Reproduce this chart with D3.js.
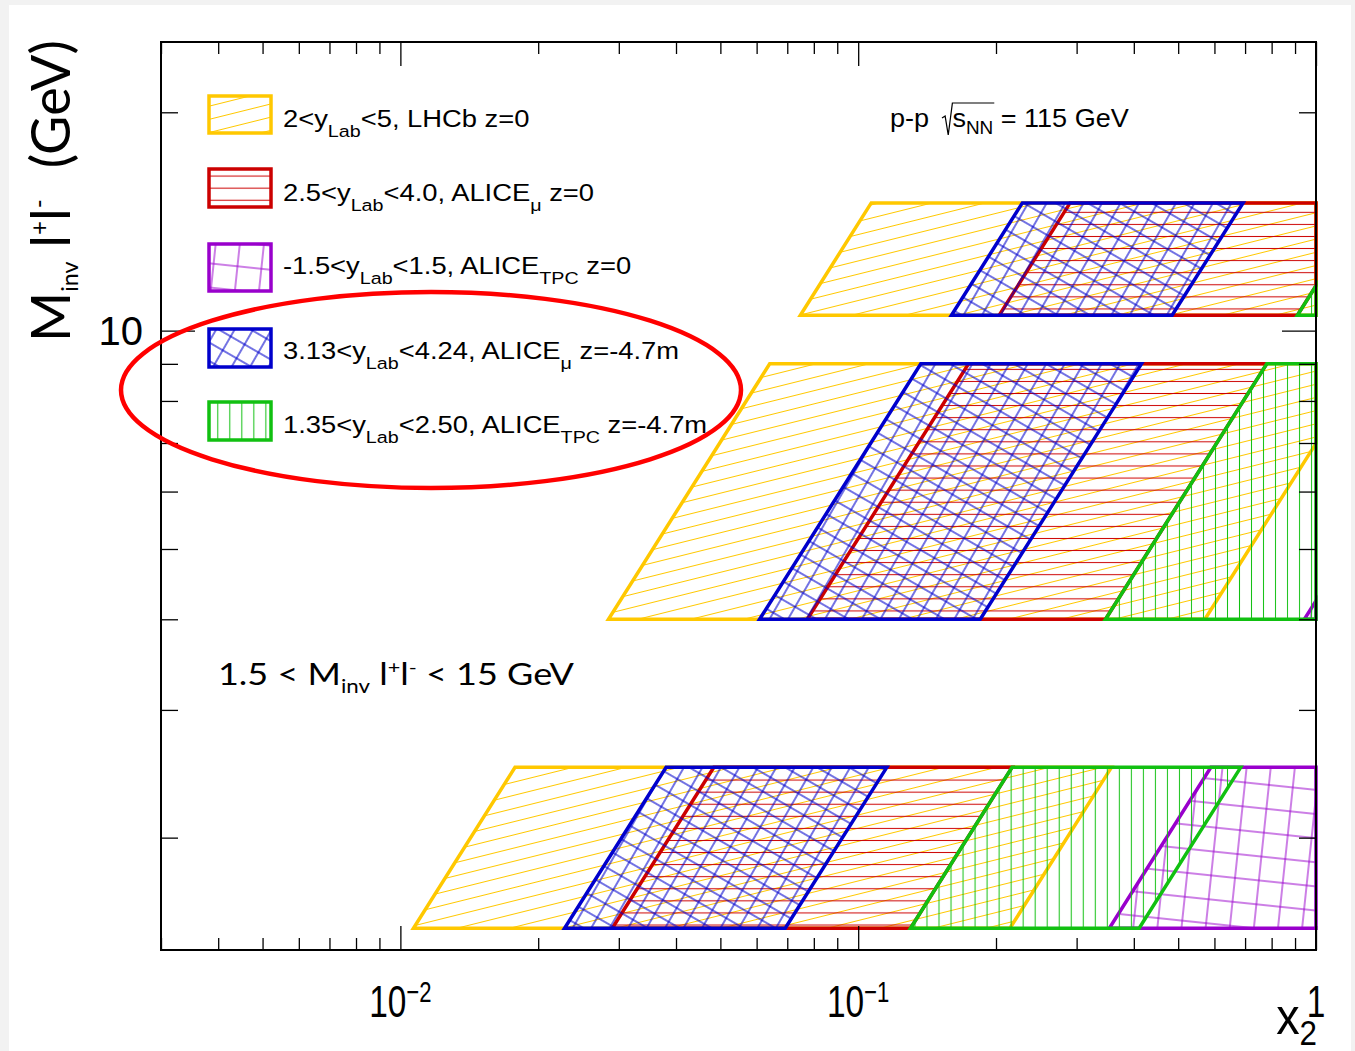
<!DOCTYPE html>
<html>
<head>
<meta charset="utf-8">
<title>x2 coverage vs dilepton mass</title>
<script src="https://cdn.jsdelivr.net/npm/d3@7/dist/d3.min.js"></script>
<style>
  html, body { margin: 0; padding: 0; background: #f2f2f2; }
  svg { display: block; }
  text { white-space: pre; }
</style>
</head>
<body>
<svg id="chart" width="1355" height="1051"></svg>
<script>
// ---- kinematics ----
const sqrtS = 115;            // GeV, p-p with the 7 TeV beam on a fixed target
const beamShift = 4.8;        // rapidity shift lab -> centre of mass
const massBands = [[1.5, 2.5], [4, 9], [10.5, 15]];   // dilepton mass windows, GeV

// ---- detector acceptances (legend order is drawing order) ----
const yLabMinText = ["2", "2.5", "-1.5", "3.13", "1.35"];
const yLabMaxText = ["5", "4.0", "1.5", "4.24", "2.50"];
const experiments = ["LHCb", "ALICE", "ALICE", "ALICE", "ALICE"];
const expSubs     = ["", "μ", "TPC", "μ", "TPC"];
const targetPos   = ["z=0", "z=0", "z=0", "z=-4.7m", "z=-4.7m"];
const colors      = ["#ffc800", "#cc0000", "#9900cc", "#0000cc", "#11c011"];

// ---- axes ----
const xDomain = [0.003, 1];
const yDomain = [1.4, 25];
const xMajorTicks  = [0.01, 0.1, 1];
const xMajorLabels = [["10", "−2"], ["10", "−1"], ["1", ""]];
const yMajorTicks  = [10];
const yMajorLabels = ["10"];

// ---------------------------------------------------------------
const W = 1355, H = 1051;
const frame = { left: 161, right: 1316, top: 42, bottom: 950 };

const svg = d3.select("#chart");
const defs = svg.append("defs");

svg.append("rect").attr("width", W).attr("height", H).attr("fill", "#f2f2f2");
svg.append("rect").attr("x", 9).attr("y", 5).attr("width", 1342).attr("height", H - 5).attr("fill", "#ffffff");

const x = d3.scaleLog().domain(xDomain).range([frame.left, frame.right]);
const y = d3.scaleLog().domain(yDomain).range([frame.bottom, frame.top]);

// ---- hatch fills ----
const hatchStyles = [
  { spacing: 12.8,  angle: -14, lines: "h",  width: 1 },                 // diagonal
  { spacing: 12.08, angle: 0,   lines: "h",  width: 1, oy: 212.3 },      // horizontal
  { spacing: 24,    angle: 6,   lines: "hv", width: 1 },                 // skewed grid
  { spacing: 16,    angle: 30,  lines: "hv", width: 1.1 },               // diamond cross-hatch
  { spacing: 12.02, angle: 0,   lines: "v",  width: 1, ox: 1119.3 }      // vertical
];
hatchStyles.forEach((s, i) => {
  const p = defs.append("pattern")
    .attr("id", "hatch" + i)
    .attr("patternUnits", "userSpaceOnUse")
    .attr("x", (s.ox || 0) - s.spacing / 2)
    .attr("y", (s.oy || 0) - s.spacing / 2)
    .attr("width", s.spacing).attr("height", s.spacing)
    .attr("patternTransform", `rotate(${s.angle})`);
  if (s.lines.includes("h"))
    p.append("line").attr("x1", -1).attr("x2", s.spacing + 1)
      .attr("y1", s.spacing / 2).attr("y2", s.spacing / 2)
      .attr("stroke", colors[i]).attr("stroke-width", s.width);
  if (s.lines.includes("v"))
    p.append("line").attr("y1", -1).attr("y2", s.spacing + 1)
      .attr("x1", s.spacing / 2).attr("x2", s.spacing / 2)
      .attr("stroke", colors[i]).attr("stroke-width", s.width);
});

// ---- acceptance regions ----
const x2 = (m, yLab) => m / sqrtS * Math.exp(beamShift - yLab);

// keep the part of a polygon (x2, M) with x2 <= xmax; edges are straight in log-log
function clipX(poly, xmax) {
  const out = [];
  for (let i = 0; i < poly.length; i++) {
    const a = poly[i], b = poly[(i + 1) % poly.length];
    const ina = a[0] <= xmax, inb = b[0] <= xmax;
    if (ina) out.push(a);
    if (ina !== inb) {
      const t = Math.log(xmax / a[0]) / Math.log(b[0] / a[0]);
      out.push([xmax, Math.exp(Math.log(a[1]) + t * Math.log(b[1] / a[1]))]);
    }
  }
  return out;
}

const line = d3.line().x(d => x(d[0])).y(d => y(d[1]));
const regions = svg.append("g");
yLabMinText.forEach((_, i) => {
  const yMin = +yLabMinText[i], yMax = +yLabMaxText[i];
  massBands.forEach(([m1, m2]) => {
    const poly = clipX([
      [x2(m1, yMax), m1], [x2(m1, yMin), m1],
      [x2(m2, yMin), m2], [x2(m2, yMax), m2]
    ], xDomain[1]);
    if (poly.length < 3) return;
    regions.append("path")
      .attr("d", line(poly) + "Z")
      .attr("fill", `url(#hatch${i})`)
      .attr("stroke", colors[i])
      .attr("stroke-width", 3.5)
      .attr("stroke-linejoin", "miter");
  });
});

// ---- frame and ticks ----
const axes = svg.append("g").attr("color", "#000");
const xAll = x.ticks();
const xMinor = xAll.filter(v => !xMajorTicks.some(m => Math.abs(m - v) / m < 1e-6));
const yAll = y.ticks();
const yMinor = yAll.filter(v => !yMajorTicks.includes(v));

function tickAxis(axisFn, scale, values, size, transform) {
  axes.append("g").attr("transform", transform)
    .call(axisFn(scale).tickValues(values).tickSize(-size).tickFormat(""))
    .call(g => g.select(".domain").remove())
    .call(g => g.selectAll("text").remove())
    .call(g => g.selectAll("line").attr("stroke-width", 1.3));
}
tickAxis(d3.axisBottom, x, xMinor, 12, `translate(0,${frame.bottom})`);
tickAxis(d3.axisBottom, x, xMajorTicks, 24, `translate(0,${frame.bottom})`);
tickAxis(d3.axisTop, x, xMinor, 12, `translate(0,${frame.top})`);
tickAxis(d3.axisTop, x, xMajorTicks, 24, `translate(0,${frame.top})`);
tickAxis(d3.axisLeft, y, yMinor, 17, `translate(${frame.left},0)`);
tickAxis(d3.axisLeft, y, yMajorTicks, 34, `translate(${frame.left},0)`);
tickAxis(d3.axisRight, y, yMinor, 17, `translate(${frame.right},0)`);
tickAxis(d3.axisRight, y, yMajorTicks, 34, `translate(${frame.right},0)`);

axes.append("rect")
  .attr("x", frame.left).attr("y", frame.top)
  .attr("width", frame.right - frame.left).attr("height", frame.bottom - frame.top)
  .attr("fill", "none").attr("stroke", "#000").attr("stroke-width", 2);

// ---- text helpers ----
function rich(textSel, parts, size, opt = {}) {
  const subS = opt.subScale || 0.72, supS = opt.supScale || 0.72;
  const subDy = opt.subDy != null ? opt.subDy : 0.42 * size;
  const supDy = opt.supDy != null ? opt.supDy : -0.42 * size;
  let shift = 0;
  parts.forEach(([t, kind]) => {
    if (t === "") return;
    const target = kind === "sub" ? subDy : kind === "sup" ? supDy : 0;
    textSel.append("tspan")
      .attr("dy", target - shift)
      .attr("font-size", kind === "sub" ? size * subS : kind === "sup" ? size * supS : size)
      .text(t);
    shift = target;
  });
  return textSel;
}
const SANS = "'Liberation Sans', Arial, Helvetica, sans-serif";
const HUMANIST = "Lato, 'Open Sans', sans-serif";

// tick labels
xMajorTicks.forEach((v, i) => {
  const g = svg.append("g").attr("transform", `translate(${x(v)},1017) scale(0.76,1)`);
  const t = g.append("text").attr("text-anchor", "middle")
    .attr("font-family", SANS).attr("font-size", 44).attr("fill", "#000");
  rich(t, [[xMajorLabels[i][0]], [xMajorLabels[i][1], "sup"]], 44, { supScale: 0.66, supDy: -15 });
});
yMajorTicks.forEach((v, i) => {
  svg.append("text").attr("x", 143).attr("y", y(v) + 14)
    .attr("text-anchor", "end").attr("font-family", SANS).attr("font-size", 40)
    .attr("fill", "#000").text(yMajorLabels[i]);
});

// axis titles
{
  const g = svg.append("g").attr("transform", "translate(1317,1034) scale(0.9,1)");
  const t = g.append("text").attr("text-anchor", "end").attr("font-family", SANS)
    .attr("font-size", 52).attr("fill", "#000");
  rich(t, [["x"], ["2", "sub"]], 52, { subScale: 0.67, subDy: 11 });
}
{
  const g = svg.append("g").attr("transform", "translate(70,342) rotate(-90)");
  const t = g.append("text").attr("font-family", HUMANIST).attr("font-size", 54).attr("fill", "#000");
  rich(t, [["M"], ["inv", "sub"], [" l"], ["+", "sup"], ["l"], ["-", "sup"]], 54,
       { subScale: 0.43, subDy: 8, supScale: 0.45, supDy: -22 });
  g.append("text").attr("x", 302).attr("text-anchor", "end")
    .attr("font-family", HUMANIST).attr("font-size", 54).attr("fill", "#000").text("(GeV)");
}

// ---- legend ----
const legendBoxTop = [96, 169, 244, 329, 402];
const legendBoxH   = [37, 38, 47, 38, 38];
const legendBase   = [127, 201, 274, 359, 433];
const legend = svg.append("g");
yLabMinText.forEach((_, i) => {
  legend.append("rect")
    .attr("x", 209).attr("y", legendBoxTop[i])
    .attr("width", 62).attr("height", legendBoxH[i])
    .attr("fill", `url(#hatch${i})`)
    .attr("stroke", colors[i]).attr("stroke-width", 3.5);
  const g = legend.append("g").attr("transform", `translate(283,${legendBase[i]}) scale(1.14,1)`);
  const t = g.append("text").attr("font-family", SANS).attr("font-size", 24).attr("fill", "#000");
  rich(t, [
    [`${yLabMinText[i]}<y`], ["Lab", "sub"],
    [`<${yLabMaxText[i]}, ${experiments[i]}`], [expSubs[i], "sub"],
    [` ${targetPos[i]}`]
  ], 24, { subScale: 0.72, subDy: 10 });
});

// ---- annotations ----
{
  const g = svg.append("g").attr("transform", "translate(890,127) scale(1.04,1)");
  g.append("text").attr("font-family", SANS).attr("font-size", 26).attr("fill", "#000").text("p-p");
  const t2 = g.append("text").attr("x", 60)
    .attr("font-family", SANS).attr("font-size", 26).attr("fill", "#000");
  rich(t2, [["s"], ["NN", "sub"], [` = ${sqrtS} GeV`]], 26, { subScale: 0.7, subDy: 7 });
  const barEnd = 60 + t2.node().getSubStringLength(0, 3) + 1;
  g.append("path")
    .attr("d", `M50,-9 L53,-11 L56,8 L60,-24 L${barEnd},-24`)
    .attr("fill", "none").attr("stroke", "#000").attr("stroke-width", 1.2);
}
{
  const g = svg.append("g").attr("transform", "translate(218,685) scale(1.2,1)");
  const t = g.append("text").attr("font-family", HUMANIST).attr("font-size", 30).attr("fill", "#000");
  rich(t, [
    [`${massBands[0][0]} < M`], ["inv", "sub"], [" l"], ["+", "sup"], ["l"], ["-", "sup"],
    [` < ${massBands[massBands.length - 1][1]} GeV`]
  ], 30, { subScale: 0.62, subDy: 8, supScale: 0.6, supDy: -11 });
}

// highlight of the shifted-target configurations
svg.append("ellipse")
  .attr("cx", 431).attr("cy", 390).attr("rx", 310).attr("ry", 98)
  .attr("fill", "none").attr("stroke", "#ff0000").attr("stroke-width", 4.5);
</script>
</body>
</html>
